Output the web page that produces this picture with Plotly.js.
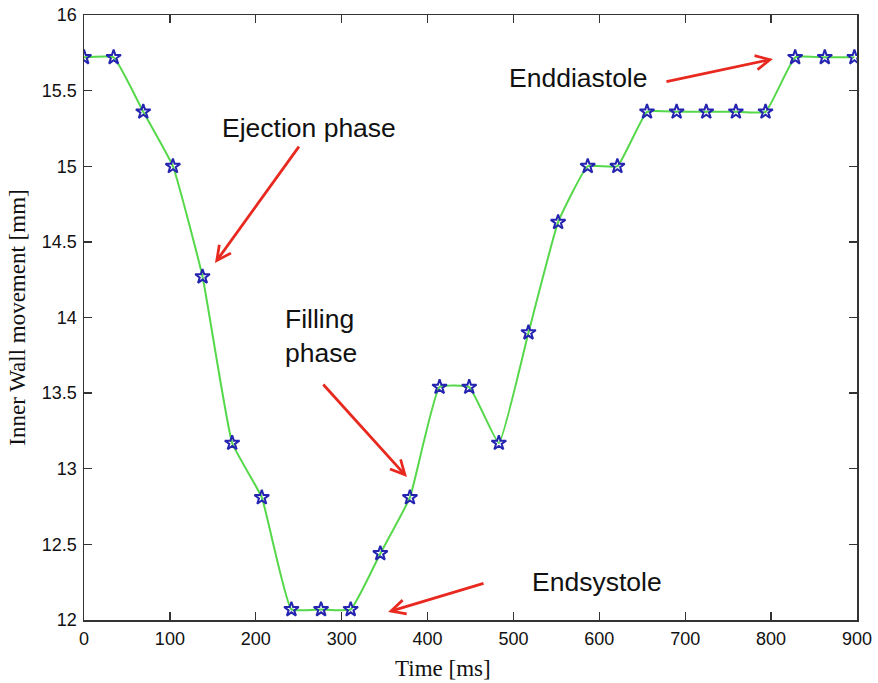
<!DOCTYPE html>
<html>
<head>
<meta charset="utf-8">
<script src="https://cdn.plot.ly/plotly-3.0.1.min.js"></script>
<style>html,body{margin:0;padding:0;background:#fff;}#chart{width:878px;height:683px;}</style>
</head>
<body>
<div id="chart"></div>
<script>
// Data
const timeMs = [0, 34.5, 69, 103.5, 138, 172.5, 207, 241.5, 276, 310.5, 345, 379.5, 414, 448.5, 483, 517.5, 552, 586.5, 621, 655.5, 690, 724.5, 759, 793.5, 828, 862.5, 897];
const wallMm = [15.72, 15.72, 15.36, 15.00, 14.27, 13.17, 12.81, 12.07, 12.07, 12.07, 12.44, 12.81, 13.54, 13.54, 13.17, 13.90, 14.63, 15.00, 15.00, 15.36, 15.36, 15.36, 15.36, 15.36, 15.72, 15.72, 15.72];

const xTitle = "Time [ms]";
const yTitle = "Inner Wall movement [mm]";

// Labelled phases: text, label position, arrow head and arrow tail
const phaseLabels = ["Ejection phase", "Filling<br>phase", "Endsystole", "Enddiastole"];
const labelX = [261.5, 231.7, 597.3, 576.2];
const labelY = [15.253, 13.878, 12.251, 15.583];
const arrowHeadX = [152.5, 376, 354, 802.2];
const arrowHeadY = [14.36, 12.945, 12.053, 15.709];
const arrowTailX = [251.5, 277, 466.9, 676.4];
const arrowTailY = [15.14, 13.567, 12.245, 15.557];

const trace = {
  x: timeMs,
  y: wallMm,
  type: 'scatter',
  mode: 'lines+markers',
  line: {color: '#55d84a', width: 2, shape: 'spline', smoothing: 0.35},
  marker: {symbol: 'star-open', size: 11, color: '#2424b0', line: {color: '#2424b0', width: 2}},
  hoverinfo: 'x+y'
};

const annotations = [];
for (let i = 0; i < phaseLabels.length; i++) {
  const isFill = i === 1;
  annotations.push({
    x: labelX[i], y: labelY[i], xref: 'x', yref: 'y',
    text: phaseLabels[i], showarrow: false,
    xanchor: isFill ? 'left' : 'center', yanchor: 'middle', align: 'left',
    font: {family: 'Liberation Sans, Arial, sans-serif', size: 26.5, color: '#111'}
  });
  annotations.push({
    x: arrowHeadX[i], y: arrowHeadY[i], xref: 'x', yref: 'y',
    ax: arrowTailX[i], ay: arrowTailY[i], axref: 'x', ayref: 'y',
    text: '', showarrow: true, arrowhead: 5, arrowsize: 1, arrowwidth: 2.8,
    arrowcolor: '#e8291f', standoff: 0, startstandoff: 0
  });
}
annotations.push({
  x: 0.465, y: 0, xref: 'paper', yref: 'paper',
  xanchor: 'center', yanchor: 'top', yshift: -34,
  text: xTitle, showarrow: false,
  font: {family: 'Liberation Serif, Times New Roman, serif', size: 23, color: '#111'}
});

const axisCommon = {
  showline: true, mirror: 'ticks', linecolor: '#333', linewidth: 1.5,
  ticks: 'inside', ticklen: 8, tickwidth: 1.3, tickcolor: '#333',
  showgrid: false, zeroline: false,
  tickfont: {family: 'Liberation Sans, Arial, sans-serif', size: 18, color: '#111'}
};

const layout = {
  width: 878, height: 683,
  margin: {l: 84, r: 21, t: 15, b: 63},
  paper_bgcolor: '#fff', plot_bgcolor: '#fff',
  showlegend: false,
  xaxis: Object.assign({}, axisCommon, {
    range: [0, 900], tickmode: 'array',
    tickvals: [0, 100, 200, 300, 400, 500, 600, 700, 800, 900],
    ticklabelstandoff: 2
  }),
  yaxis: Object.assign({}, axisCommon, {
    range: [12, 16], tickmode: 'array',
    tickvals: [12, 12.5, 13, 13.5, 14, 14.5, 15, 15.5, 16],
    ticktext: ['12', '12.5', '13', '13.5', '14', '14.5', '15', '15.5', '16'],
    ticklabelstandoff: 2,
    title: {text: yTitle, standoff: 10, font: {family: 'Liberation Serif, Times New Roman, serif', size: 23, color: '#111'}}
  }),
  annotations: annotations
};

Plotly.newPlot('chart', [trace], layout, {displayModeBar: false, staticPlot: true});
</script>
</body>
</html>
